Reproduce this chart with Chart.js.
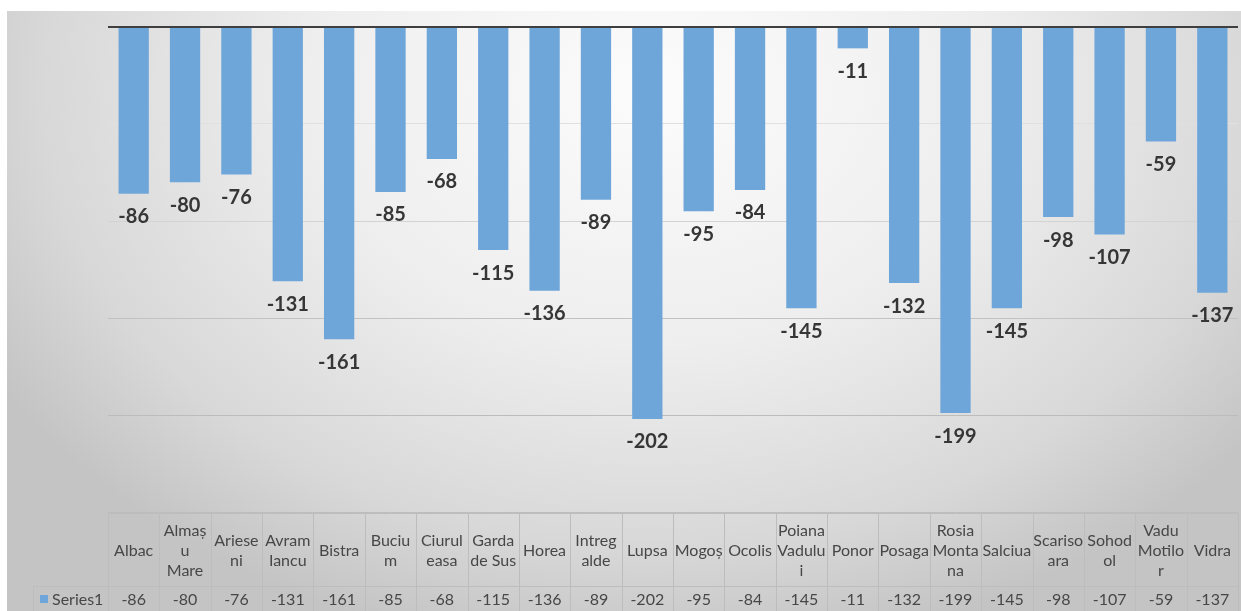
<!DOCTYPE html>
<html>
<head>
<meta charset="utf-8">
<script src="https://cdn.jsdelivr.net/npm/chart.js@4.4.1/dist/chart.umd.min.js"></script>
<style>
  html, body { margin: 0; padding: 0; background: #fff; }
  canvas { display: block; }
</style>
</head>
<body>
<canvas id="myChart" width="1241" height="611"></canvas>
<script>
// village names, already wrapped the way they sit in the table cells
var categories = [
    'Albac', ['Almaș', 'u', 'Mare'], ['Ariese', 'ni'], ['Avram', 'Iancu'], 'Bistra',
    ['Buciu', 'm'], ['Ciurul', 'easa'], ['Garda', 'de Sus'], 'Horea', ['Intreg', 'alde'],
    'Lupsa', 'Mogoș', 'Ocolis', ['Poiana', 'Vadulu', 'i'], 'Ponor', 'Posaga',
    ['Rosia', 'Monta', 'na'], 'Salciua', ['Scariso', 'ara'], ['Sohod', 'ol'],
    ['Vadu', 'Motilo', 'r'], 'Vidra'
];
var seriesName = 'Series1';
var series1 = [-86, -80, -76, -131, -161, -85, -68, -115, -136, -89, -202, -95, -84, -145, -11, -132, -199, -145, -98, -107, -59, -137];
var yMin = -250, yMax = 0, yStep = 50;

var barColor = '#6fa6da';
var FONT = 'Lato, "Open Sans", sans-serif';

// gridlines get darker lower down, where the card is grayer
var gridColors = { '0': '#3f3f3f', '-50': '#e0e0e0', '-100': '#d3d3d3', '-150': '#c2c2c2', '-200': '#bcbcbc', '-250': '#bdbdbd' };

// gray card background, lighter towards the top middle
var backgroundPlugin = {
    id: 'cardBackground',
    beforeDraw: function (chart) {
        var ctx = chart.ctx;
        ctx.save();
        ctx.fillStyle = '#ffffff';
        ctx.fillRect(0, 0, chart.width, chart.height);
        ctx.beginPath();
        ctx.rect(7, 11, chart.width - 7, chart.height - 11);
        ctx.clip();
        ctx.translate(650, 90);
        ctx.scale(1, 0.75);
        var g = ctx.createRadialGradient(0, 0, 0, 0, 0, 760);
        g.addColorStop(0, '#fcfcfc');
        g.addColorStop(0.45, '#eeeeee');
        g.addColorStop(0.8, '#d8d8d8');
        g.addColorStop(1, '#c4c4c4');
        ctx.fillStyle = g;
        ctx.fillRect(-900, -800, 1800, 1600);
        ctx.restore();
    }
};

// value printed under the end of each bar
var valueLabelPlugin = {
    id: 'valueLabels',
    afterDatasetsDraw: function (chart) {
        var ctx = chart.ctx;
        var meta = chart.getDatasetMeta(0);
        ctx.save();
        ctx.font = 'bold 20px ' + FONT;
        ctx.fillStyle = '#363636';
        ctx.textAlign = 'center';
        ctx.textBaseline = 'middle';
        meta.data.forEach(function (bar, i) {
            ctx.fillText(String(series1[i]), bar.x, bar.y + 23);
        });
        ctx.restore();
    }
};

// data table under the plot
var dataTablePlugin = {
    id: 'dataTable',
    afterDraw: function (chart) {
        var ctx = chart.ctx;
        var area = chart.chartArea;
        var xScale = chart.scales.x;
        var n = categories.length;
        var colW = (area.right - area.left) / n;
        var top = area.bottom + 1;
        var mid = top + 73;
        var bottom = chart.height + 2;
        var rowLeft = 33;

        ctx.save();
        ctx.strokeStyle = '#bdbdbd';
        ctx.lineWidth = 1;
        ctx.beginPath();
        ctx.moveTo(area.left, top + 0.5);
        ctx.lineTo(area.right, top + 0.5);
        ctx.moveTo(rowLeft, mid + 0.5);
        ctx.lineTo(area.right, mid + 0.5);
        ctx.moveTo(rowLeft + 0.5, mid);
        ctx.lineTo(rowLeft + 0.5, bottom);
        for (var i = 0; i <= n; i++) {
            var x = Math.round(area.left + i * colW) + 0.5;
            ctx.moveTo(x, top);
            ctx.lineTo(x, bottom);
        }
        ctx.stroke();

        ctx.font = '16px ' + FONT;
        ctx.fillStyle = '#474747';
        ctx.textAlign = 'center';
        ctx.textBaseline = 'middle';
        var lineH = 20;
        var headCenter = (top + mid) / 2 + 1;
        categories.forEach(function (lab, i) {
            var lines = Array.isArray(lab) ? lab : [lab];
            var cx = xScale.getPixelForValue(i);
            var y0 = headCenter - (lines.length - 1) * lineH / 2;
            lines.forEach(function (t, k) {
                ctx.fillText(t, cx, y0 + k * lineH);
            });
            ctx.fillText(String(series1[i]), cx, mid + 14);
        });

        // legend key + series name
        ctx.fillStyle = barColor;
        ctx.fillRect(40, mid + 9, 8, 8);
        ctx.fillStyle = '#474747';
        ctx.textAlign = 'left';
        ctx.fillText(seriesName, 52, mid + 14);
        ctx.restore();
    }
};

var ctx = document.getElementById('myChart');
var myChart = new Chart(ctx, {
    type: 'bar',
    data: {
        labels: categories,
        datasets: [{
            label: seriesName,
            data: series1,
            backgroundColor: barColor,
            borderWidth: 0,
            barPercentage: 0.59,
            categoryPercentage: 1
        }]
    },
    options: {
        responsive: false,
        animation: false,
        devicePixelRatio: 1,
        layout: { padding: { left: 108, right: 3, top: 27, bottom: 99 } },
        plugins: {
            legend: { display: false },
            tooltip: { enabled: false }
        },
        scales: {
            x: { display: false },
            y: {
                min: yMin,
                max: yMax,
                ticks: { display: false, stepSize: yStep },
                border: { display: false },
                grid: {
                    drawTicks: false,
                    color: function (c) { return gridColors[String(c.tick.value)] || '#c8c8c8'; },
                    lineWidth: function (c) { return c.tick.value === 0 ? 2 : 1; }
                },
                afterFit: function (scale) { scale.width = 0; }
            }
        }
    },
    plugins: [backgroundPlugin, valueLabelPlugin, dataTablePlugin]
});
</script>
</body>
</html>
